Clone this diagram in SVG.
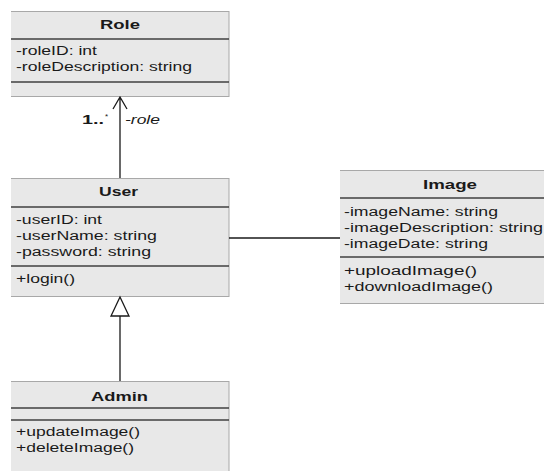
<svg xmlns="http://www.w3.org/2000/svg" width="544" height="471" viewBox="0 0 544 471">
<style>
.box{fill:#e8e8e8;stroke:none}
.edge{stroke:#a8a8a8;stroke-width:1;fill:none}
.div{stroke:#404040;stroke-width:1.3;fill:none}
.t{font-family:"Liberation Sans",Arial,sans-serif;font-size:12px;fill:#1a1a1a}
.n{font-family:"Liberation Sans",Arial,sans-serif;font-size:13px;font-weight:bold;fill:#1a1a1a}
.c{stroke:#1a1a1a;stroke-width:1.3;fill:none}
</style>
<rect width="544" height="471" fill="#ffffff"/>
<g id="Role">
<rect class="box" x="11" y="11" width="218" height="86"/>
<path class="edge" d="M11 11.5H229M229 11V97M11 96.5H229"/>
<path class="div" d="M11 39H229M11 82H229"/>
<text class="n" x="100" y="29" textLength="40" lengthAdjust="spacingAndGlyphs">Role</text>
<text class="t" x="16" y="55" textLength="81" lengthAdjust="spacingAndGlyphs">-roleID: int</text>
<text class="t" x="16" y="71" textLength="176" lengthAdjust="spacingAndGlyphs">-roleDescription: string</text>
</g>
<g id="User">
<rect class="box" x="11" y="178" width="218" height="119"/>
<path class="edge" d="M11 178.5H229M229 178V297M11 296.5H229"/>
<path class="div" d="M11 207H229M11 266H229"/>
<text class="n" x="99" y="196" textLength="39" lengthAdjust="spacingAndGlyphs">User</text>
<text class="t" x="16" y="224" textLength="86" lengthAdjust="spacingAndGlyphs">-userID: int</text>
<text class="t" x="16" y="240" textLength="141" lengthAdjust="spacingAndGlyphs">-userName: string</text>
<text class="t" x="16" y="256" textLength="135" lengthAdjust="spacingAndGlyphs">-password: string</text>
<text class="t" x="16" y="283" textLength="59" lengthAdjust="spacingAndGlyphs">+login()</text>
</g>
<g id="Image">
<rect class="box" x="340" y="170" width="204" height="134"/>
<path class="edge" d="M340 170.5H544M340 303.5H544"/>
<path class="div" d="M340 198H544M340 257H544"/>
<text class="n" x="423" y="189" textLength="54" lengthAdjust="spacingAndGlyphs">Image</text>
<text class="t" x="344" y="216" textLength="154" lengthAdjust="spacingAndGlyphs">-imageName: string</text>
<text class="t" x="344" y="232" textLength="199" lengthAdjust="spacingAndGlyphs">-imageDescription: string</text>
<text class="t" x="344" y="248" textLength="144" lengthAdjust="spacingAndGlyphs">-imageDate: string</text>
<text class="t" x="344" y="275" textLength="133" lengthAdjust="spacingAndGlyphs">+uploadImage()</text>
<text class="t" x="344" y="291" textLength="149" lengthAdjust="spacingAndGlyphs">+downloadImage()</text>
</g>
<g id="Admin">
<rect class="box" x="11" y="381" width="218" height="90"/>
<path class="edge" d="M11 381.5H229M229 381V471"/>
<path class="div" d="M11 408H229M11 420H229"/>
<text class="n" x="91" y="401" textLength="57" lengthAdjust="spacingAndGlyphs">Admin</text>
<text class="t" x="16" y="436" textLength="124" lengthAdjust="spacingAndGlyphs">+updateImage()</text>
<text class="t" x="16" y="452" textLength="118" lengthAdjust="spacingAndGlyphs">+deleteImage()</text>
</g>
<g id="connectors">
<path class="c" d="M120 178V97M113 109L120 97L127 109"/>
<text class="t" x="82" y="124" style="font-weight:bold" textLength="22" lengthAdjust="spacingAndGlyphs">1..</text>
<text class="t" x="105" y="119" style="font-size:8px">*</text>
<text class="t" x="125" y="124" style="font-style:italic" textLength="35" lengthAdjust="spacingAndGlyphs">-role</text>
<path class="c" d="M229 238H340"/>
<path class="c" d="M120 381V316"/>
<path d="M120 297L129 316H111Z" fill="#ffffff" stroke="#1a1a1a" stroke-width="1.3"/>
</g>
</svg>
